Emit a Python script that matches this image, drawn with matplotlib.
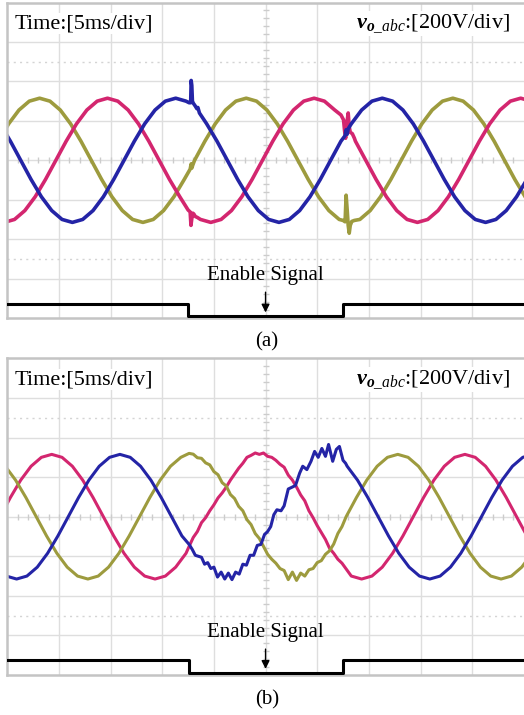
import numpy as np
import matplotlib
matplotlib.use("Agg")
from matplotlib import pyplot as plt

plt.rcParams['font.family'] = ['Liberation Serif', 'DejaVu Serif']
plt.rcParams['mathtext.fontset'] = 'custom'
plt.rcParams['mathtext.rm'] = 'Liberation Serif'
plt.rcParams['mathtext.it'] = 'Liberation Serif:italic'
plt.rcParams['mathtext.bf'] = 'Liberation Serif:italic:bold'

# time in ms (5 ms/div, 10 div), voltage in V (200 V/div, 8 div)
step = 1.0

# ---- panel (a): base traces, sampled every 1 ms from t0
olive_a_t0 = -1.87
olive_a = [0, 97, 185, 255, 300, 315, 300, 255, 185, 97, 0, -97, -185, -255, -300, -315, -300, -255, -185, -97,
           0, 97, 185, 255, 300, 315, 300, 255, 185, 97, 0, -97, -185, -255, -300, -315, -300, -255, -185, -97,
           0, 97, 185, 255, 300, 315, 300, 255, 185, 97, 0, -97, -185, -255]
pink_a_t0 = -1.3
pink_a = [-300, -315, -300, -255, -185, -97, 0, 97, 185, 255, 300, 315, 300, 255, 185, 97, 0, -97, -185, -255,
          -300, -315, -300, -255, -185, -97, 0, 97, 185, 255, 300, 315, 300, 255, 185, 97, 0, -97, -185, -255,
          -300, -315, -300, -255, -185, -97, 0, 97, 185, 255, 300, 315, 300, 255]
blue_a_t0 = -1.7
blue_a = [255, 185, 97, 0, -97, -185, -255, -300, -315, -300, -255, -185, -97, 0, 97, 185, 255, 300, 315, 300,
          255, 185, 97, 0, -97, -185, -255, -300, -315, -300, -255, -185, -97, 0, 97, 185, 255, 300, 315, 300,
          255, 185, 97, 0, -97, -185, -255, -300, -315, -300, -255, -185, -97, 0]

# switching transients in (a)
blue_a_ev1_t = [17.6, 17.75, 17.8, 17.86, 17.92, 18.0, 18.2, 18.35, 18.45, 18.6]
blue_a_ev1_v = [292, 292, 405, 380, 300, 290, 275, 262, 268, 240]
pink_a_ev1_t = [17.5, 17.7, 17.78, 17.85, 17.95, 18.05, 18.2, 18.4]
pink_a_ev1_v = [-252, -262, -330, -300, -268, -272, -285, -290]
olive_a_ev1_t = [17.7, 17.8, 17.86, 17.95]
olive_a_ev1_v = [-45, -18, -40, -25]
pink_a_ev2_t = [32.3, 32.55, 32.65, 32.75, 32.9, 33.0, 33.1, 33.2, 33.4, 33.6]
pink_a_ev2_v = [230, 205, 150, 112, 200, 240, 170, 142, 135, 112]
olive_a_ev2_t = [32.5, 32.7, 32.8, 32.9, 33.0, 33.1, 33.2, 33.35, 33.6]
olive_a_ev2_v = [-305, -312, -177, -250, -330, -370, -330, -310, -305]
blue_a_ev2_t = [32.7, 32.8, 32.9, 33.0]
blue_a_ev2_v = [125, 155, 132, 160]

# ---- panel (b): base traces
pink_b_t0 = -1.7
pink_b = [-97, 0, 97, 185, 255, 300, 315, 300, 255, 185, 97, 0, -97, -185, -255, -300, -315, -300, -255, -185,
          -97, 0, 97, 185, 255, 300, 315, 300, 255, 185, 97, 0, -97, -185, -255, -300, -315, -300, -255, -185,
          -97, 0, 97, 185, 255, 300, 315, 300, 255, 185, 97, 0, -97, -185]
blue_b_t0 = -1.1
blue_b = [-255, -300, -315, -300, -255, -185, -97, 0, 97, 185, 255, 300, 315, 300, 255, 185, 97, 0, -97, -185,
          -255, -300, -315, -300, -255, -185, -97, 0, 97, 185, 255, 300, 315, 300, 255, 185, 97, 0, -97, -185,
          -255, -300, -315, -300, -255, -185, -97, 0, 97, 185, 255, 300, 315, 300]
olive_b_t0 = -1.2
olive_b = [300, 255, 185, 97, 0, -97, -185, -255, -300, -315, -300, -255, -185, -97, 0, 97, 185, 255, 300, 315,
           300, 255, 185, 97, 0, -97, -185, -255, -300, -315, -300, -255, -185, -97, 0, 97, 185, 255, 300, 315,
           300, 255, 185, 97, 0, -97, -185, -255, -300, -315, -300, -255, -185, -97]

# distorted section in (b) while the enable signal is low
blue_b_dist_t = [17.6, 17.9, 18.2, 18.5, 18.8, 19.1, 19.4, 19.7, 20.0, 20.35, 20.7, 21.05, 21.4, 21.75, 22.1,
                 22.45, 22.8, 23.15, 23.5, 23.85, 24.2, 24.55, 24.9, 25.2, 25.5, 25.8, 26.1, 26.5, 26.8, 27.2,
                 27.6, 27.9, 28.3, 28.6, 29.0, 29.4, 29.75, 30.1, 30.45, 30.8, 31.1, 31.5, 31.85, 32.15, 32.5, 32.75]
blue_b_dist_v = [-140, -165, -195, -200, -205, -240, -232, -262, -255, -305, -280, -315, -285, -318, -280,
                 -290, -240, -245, -195, -195, -145, -140, -90, -75, -50, 10, 35, 30, 55, 140,
                 150, 158, 220, 255, 238, 280, 330, 300, 345, 305, 365, 280, 340, 355, 285, 270]
pink_b_dist_t = [17.6, 18.0, 18.4, 18.8, 19.2, 19.6, 20.0, 20.4, 20.8, 21.2, 21.6, 22.0, 22.4, 22.8, 23.2,
                 23.6, 24.0, 24.4, 24.8, 25.2, 25.6, 26.0, 26.4, 26.8, 27.2, 27.6, 28.0, 28.4, 28.8, 29.2,
                 29.6, 30.0, 30.4, 30.8, 31.2, 31.6, 32.0, 32.4]
pink_b_dist_v = [-150, -105, -75, -30, -5, 30, 60, 95, 120, 150, 185, 215, 245, 270, 300,
                 310, 322, 315, 322, 305, 300, 285, 265, 250, 210, 185, 150, 110, 80, 30,
                 -5, -45, -80, -115, -160, -185, -215, -235]
olive_b_dist_t = [17.6, 18.0, 18.4, 18.8, 19.2, 19.6, 20.0, 20.4, 20.8, 21.2, 21.6, 22.0, 22.4, 22.8, 23.2,
                  23.6, 24.0, 24.4, 24.8, 25.2, 25.6, 26.0, 26.4, 26.8, 27.2, 27.6, 28.0, 28.4, 28.8, 29.2,
                  29.6, 30.0, 30.4, 30.8, 31.2, 31.6, 32.0, 32.4]
olive_b_dist_v = [320, 316, 298, 295, 272, 262, 228, 212, 172, 155, 112, 92, 52, 30, -15,
                  -40, -85, -110, -150, -190, -215, -235, -262, -272, -318, -280, -322, -285, -300, -268,
                  -262, -232, -222, -190, -172, -138, -85, -50]

# enable signal
en_a_t = [0, 17.5, 17.5, 32.5, 32.5, 50]
en_a_v = [-728, -728, -788, -788, -728, -728]
en_b_t = [0, 17.6, 17.6, 32.5, 32.5, 50]
en_b_v = [-723, -723, -788, -788, -723, -723]

OLIVE = '#9d9b3e'
PINK = '#d3266f'
BLUE = '#2424a6'
GRID = '#dedede'


def base_trace(t0, vals):
    t = t0 + np.arange(len(vals)) * step
    return t, np.array(vals, dtype=float)


def insert_event(t, v, ev_t, ev_v):
    #Replace the base samples that fall inside the event window.
    keep = (t < ev_t[0]) | (t > ev_t[-1])
    tt = np.concatenate([t[keep], ev_t])
    vv = np.concatenate([v[keep], ev_v])
    order = np.argsort(tt)
    return tt[order], vv[order]


def scope_axes(ax):
    ax.set_xlim(0, 50)
    ax.set_ylim(-800, 800)
    for x in range(5, 50, 5):
        ax.axvline(x, color=GRID, lw=1, zorder=0)
    for y in range(-600, 800, 200):
        ax.axhline(y, color=GRID, lw=1, zorder=0)
    for y in [-500, 500]:
        ax.axhline(y, color='#d4d4d4', lw=1, ls=(0, (1.5, 3)), zorder=0)
    # minor ticks along the centre cross
    ax.plot(np.arange(1, 50, 1), np.zeros(49), '|', color='#cccccc', ms=5, zorder=0)
    ax.plot(np.full(39, 25.0), np.arange(-760, 800, 40), '_', color='#cccccc', ms=5, zorder=0)
    ax.set_xticks([])
    ax.set_yticks([])
    for s in ['top', 'bottom', 'left']:
        ax.spines[s].set_color('#c4c4c4')
        ax.spines[s].set_linewidth(1.8)
    ax.spines['right'].set_visible(False)
    ax.text(0.0149, 0.919, 'Time:[5ms/div]', transform=ax.transAxes, fontsize=16,
            ha='left', va='baseline', bbox=dict(fc='white', ec='none', pad=1), zorder=5)
    ax.text(0.973, 0.919, r'$\mathbf{v}_{\mathbf{o}\mathit{\_abc}}$:[200V/div]', transform=ax.transAxes,
            fontsize=16, ha='right', va='baseline', bbox=dict(fc='white', ec='none', pad=1), zorder=5)


fig = plt.figure(figsize=(5.24, 7.15), dpi=100)
ax_a = fig.add_axes([7.3 / 524, 1 - 318 / 715, 516.5 / 524, 315.4 / 715])
ax_b = fig.add_axes([7.3 / 524, 1 - 675 / 715, 516.5 / 524, 316.6 / 715])

# panel (a)
scope_axes(ax_a)
t, v = base_trace(olive_a_t0, olive_a)
t, v = insert_event(t, v, olive_a_ev1_t, olive_a_ev1_v)
t, v = insert_event(t, v, olive_a_ev2_t, olive_a_ev2_v)
ax_a.plot(t, v, color=OLIVE, lw=2.6, zorder=2)
t, v = base_trace(pink_a_t0, pink_a)
t, v = insert_event(t, v, pink_a_ev1_t, pink_a_ev1_v)
t, v = insert_event(t, v, pink_a_ev2_t, pink_a_ev2_v)
ax_a.plot(t, v, color=PINK, lw=2.6, zorder=2)
t, v = base_trace(blue_a_t0, blue_a)
t, v = insert_event(t, v, blue_a_ev1_t, blue_a_ev1_v)
t, v = insert_event(t, v, blue_a_ev2_t, blue_a_ev2_v)
ax_a.plot(t, v, color=BLUE, lw=2.6, zorder=2)
ax_a.plot(en_a_t, en_a_v, color='black', lw=2.2, zorder=3)
ax_a.text(25, -583, 'Enable Signal', fontsize=15, ha='center', va='center', zorder=5)
ax_a.annotate('', xy=(25, -786), xytext=(25, -655),
              arrowprops=dict(arrowstyle='-|>', color='black', lw=1, mutation_scale=12), zorder=5)

# panel (b)
scope_axes(ax_b)
t, v = base_trace(pink_b_t0, pink_b)
t, v = insert_event(t, v, pink_b_dist_t, pink_b_dist_v)
ax_b.plot(t, v, color=PINK, lw=2.2, zorder=2)
t, v = base_trace(olive_b_t0, olive_b)
t, v = insert_event(t, v, olive_b_dist_t, olive_b_dist_v)
ax_b.plot(t, v, color=OLIVE, lw=2.2, zorder=2)
t, v = base_trace(blue_b_t0, blue_b)
t, v = insert_event(t, v, blue_b_dist_t, blue_b_dist_v)
ax_b.plot(t, v, color=BLUE, lw=2.2, zorder=2)
ax_b.plot(en_b_t, en_b_v, color='black', lw=2.2, zorder=3)
ax_b.text(25, -586, 'Enable Signal', fontsize=15, ha='center', va='center', zorder=5)
ax_b.annotate('', xy=(25, -783), xytext=(25, -655),
              arrowprops=dict(arrowstyle='-|>', color='black', lw=1, mutation_scale=12), zorder=5)

fig.text(267 / 524, 1 - 342 / 715, '(a)', fontsize=15, ha='center', va='center')
fig.text(267 / 524, 1 - 700 / 715, '(b)', fontsize=15, ha='center', va='center')

fig.savefig('out.png', dpi=100, facecolor='white')
